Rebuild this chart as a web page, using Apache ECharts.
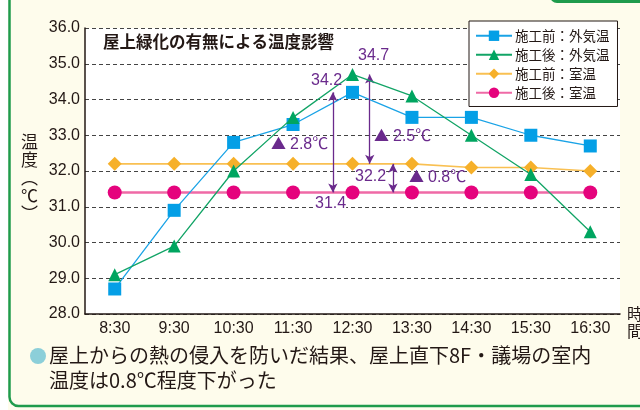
<!DOCTYPE html>
<html>
<head>
<meta charset="utf-8">
<script src="https://cdn.jsdelivr.net/npm/echarts@6/dist/echarts.min.js"></script>
<style>
  html, body { margin: 0; padding: 0; background: #fff; }
  #chart { width: 640px; height: 410px; }
</style>
</head>
<body>
<div id="chart"></div>
<script>
// categories and values
const hours = ["8:30", "9:30", "10:30", "11:30", "12:30", "13:30", "14:30", "15:30", "16:30"];
const beforeOutside = [28.7, 30.9, 32.8, 33.3, 34.2, 33.5, 33.5, 33.0, 32.7];
const afterOutside = [29.1, 29.9, 32.0, 33.5, 34.7, 34.1, 33.0, 31.9, 30.3];
const beforeRoom = [32.2, 32.2, 32.2, 32.2, 32.2, 32.2, 32.1, 32.1, 32.0];
const afterRoom = [31.4, 31.4, 31.4, 31.4, 31.4, 31.4, 31.4, 31.4, 31.4];
const seriesNames = ["施工前：外気温", "施工後：外気温", "施工前：室温", "施工後：室温"];

// difference arrows: [from, to] in °C
const arrowSpans = [[34.2, 31.4], [34.7, 32.2], [32.2, 31.4]];
const arrowAt = [3.67, 4.29, 4.68]; // position between categories

const JP = '"Noto Sans CJK JP", "Noto Sans", sans-serif';
const NUM = '"Liberation Sans", Arial, "Noto Sans CJK JP", sans-serif';
const purple = "#6a2a8c";
const green = "#1f9b4c";
const ink = "#231815";

document.addEventListener("DOMContentLoaded", function () {
  let chartDom = document.getElementById("chart");
  let myChart = echarts.init(chartDom);

  // purple annotation text
  function note(text, left, top, bg, family, size) {
    return {
      type: "text",
      left: left,
      top: top,
      z: 100,
      style: {
        text: text,
        fill: purple,
        font: (size || 16) + "px " + (family || NUM),
        backgroundColor: bg ? "#fff" : null,
      },
    };
  }

  let option = {
    backgroundColor: "#fefcec",
    animation: false,
    grid: {
      left: 85,
      right: 20,
      top: 28,
      bottom: 96,
      show: true,
      backgroundColor: "#fff",
      borderWidth: 0,
    },
    legend: {
      orient: "vertical",
      left: 469,
      top: 21,
      width: 143,
      padding: [8, 8, 7, 6],
      itemWidth: 36,
      itemHeight: 13,
      itemGap: 5.5,
      backgroundColor: "#fff",
      borderColor: ink,
      borderWidth: 1,
      data: seriesNames,
      textStyle: { fontFamily: JP, fontSize: 13.5, color: ink, padding: [0, 0, 0, -2] },
    },
    xAxis: [
      {
        type: "category",
        data: hours,
        axisLine: { lineStyle: { color: ink, width: 1.5 } },
        axisTick: { show: false },
        axisLabel: { color: ink, fontFamily: NUM, fontSize: 16, margin: 7 },
      },
      {
        type: "value",
        min: -0.5,
        max: 8.5,
        show: false,
      },
    ],
    yAxis: {
      type: "value",
      min: 28,
      max: 36,
      interval: 1,
      axisLine: { show: true, onZero: false, lineStyle: { color: ink, width: 1.5 } },
      axisTick: { show: false },
      axisLabel: {
        color: ink,
        fontFamily: NUM,
        fontSize: 16,
        margin: 5,
        formatter: function (v) { return v.toFixed(1); },
      },
      splitLine: { lineStyle: { color: "#444", type: [4, 3], width: 1 } },
    },
    series: [
      {
        name: seriesNames[2],
        type: "line",
        data: beforeRoom,
        symbol: "diamond",
        symbolSize: 14,
        lineStyle: { color: "#f9c052", width: 1.6 },
        itemStyle: { color: "#f6b02a" },
        z: 3,
      },
      {
        name: seriesNames[3],
        type: "line",
        data: afterRoom,
        symbol: "circle",
        symbolSize: 14,
        lineStyle: { color: "#ef6aa6", width: 2.5 },
        itemStyle: { color: "#e5037d" },
        z: 3,
      },
      {
        name: seriesNames[0],
        type: "line",
        data: beforeOutside,
        symbol: "rect",
        symbolSize: 13,
        lineStyle: { color: "#1aa3e6", width: 1.3 },
        itemStyle: { color: "#049fe6" },
        z: 4,
      },
      {
        name: seriesNames[1],
        type: "line",
        data: afterOutside,
        symbol: "triangle",
        symbolSize: 13,
        lineStyle: { color: "#12a466", width: 1.3 },
        itemStyle: { color: "#00a560" },
        z: 5,
      },
      {
        type: "line",
        xAxisIndex: 1,
        data: [],
        silent: true,
        z: 6,
        markLine: {
          silent: true,
          animation: false,
          symbol: ["arrow", "arrow"],
          symbolSize: [7, 9],
          label: { show: false },
          lineStyle: { color: purple, width: 1.3, type: "solid" },
          data: arrowSpans.map(function (s, i) {
            return [{ coord: [arrowAt[i], s[0]] }, { coord: [arrowAt[i], s[1]] }];
          }),
        },
      },
    ],
    graphic: [
      { type: "rect", z: 100, shape: { x: 0, y: 0, width: 8, height: 410 }, style: { fill: "#fff" } },
      {
        type: "rect",
        z: 100,
        shape: { x: 9.5, y: -30, width: 680, height: 436, r: 9 },
        style: { fill: null, stroke: green, lineWidth: 2.5 },
      },
      {
        type: "rect",
        z: 100,
        shape: { x: 550, y: -12, width: 110, height: 15, r: 7 },
        style: { fill: green },
      },
      {
        type: "text",
        left: 103,
        top: 33,
        z: 100,
        style: { text: "屋上緑化の有無による温度影響", fill: ink, font: "bold 16.5px " + JP },
      },
      {
        type: "text",
        left: 21,
        top: 133,
        z: 100,
        style: { text: "温\n度\n︵\n℃\n︶", fill: ink, font: "17px " + JP, lineHeight: 18 },
      },
      {
        type: "text",
        left: 627,
        top: 305,
        z: 100,
        style: { text: "時\n間", fill: ink, font: "16px " + JP, lineHeight: 17 },
      },
      note("34.2", 311, 73, false),
      note("34.7", 358, 48, true),
      note("▲", 271, 136, false, JP, 15),
      note("2.8℃", 290, 137, false),
      note("▲", 374, 128, false, JP, 15),
      note("2.5℃", 393, 129, false),
      note("32.2", 355, 169, true),
      note("▲", 409, 169, false, JP, 15),
      note("0.8℃", 428, 170, false),
      note("31.4", 315, 196, true),
      {
        type: "circle",
        z: 100,
        shape: { cx: 38, cy: 356, r: 8 },
        style: { fill: "#8ccfd9" },
      },
      {
        type: "text",
        left: 49,
        top: 343,
        z: 100,
        style: {
          text: "屋上からの熱の侵入を防いだ結果、屋上直下8F・議場の室内\n温度は0.8℃程度下がった",
          fill: ink,
          font: "20px " + JP,
          lineHeight: 25,
        },
      },
    ],
  };

  myChart.setOption(option);

  window.addEventListener("resize", function () {
    myChart.resize();
  });
});
</script>
</body>
</html>
